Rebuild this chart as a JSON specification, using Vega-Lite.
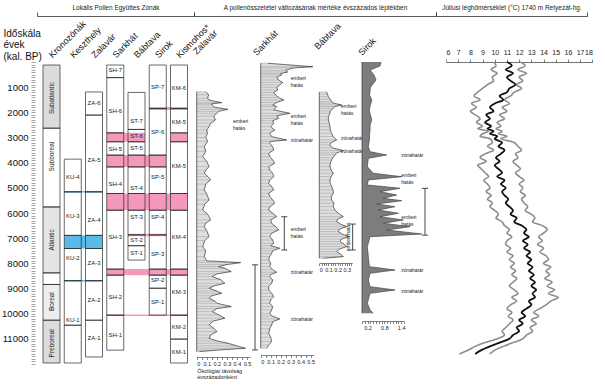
{
"$schema": "https://vega.github.io/schema/vega-lite/v6.json",
"width": 605, "height": 385, "autosize": {"type": "none"}, "padding": 0,
"background": "white",
"view": {"stroke": null},
"config": {"font": "Liberation Sans", "axis": {"labelFont": "Liberation Sans", "titleFont": "Liberation Sans", "grid": false}, "text": {"font": "Liberation Sans"}},
"datasets": {
"zones": [
{"col":"Kronozónák","from":120,"to":2630,"label":"Subatlantic","mid":1430},
{"col":"Kronozónák","from":2630,"to":5760,"label":"Subboreal","mid":3760},
{"col":"Kronozónák","from":5760,"to":8380,"label":"Atlantic","mid":7070},
{"col":"Kronozónák","from":8380,"to":8840,"label":"","mid":8600},
{"col":"Kronozónák","from":8840,"to":10260,"label":"Boreal","mid":9520},
{"col":"Kronozónák","from":10260,"to":11960,"label":"Preboreal","mid":11180},
{"col":"Keszthely","from":3860,"to":5160,"label":"KU-4","mid":4560},
{"col":"Keszthely","from":5160,"to":6890,"label":"KU-3","mid":6130},
{"col":"Keszthely","from":6890,"to":7410,"label":"","mid":7150},
{"col":"Keszthely","from":7410,"to":8690,"label":"KU-2","mid":7800},
{"col":"Keszthely","from":8690,"to":10460,"label":"KU-1","mid":10250},
{"col":"Keszthely","from":10460,"to":11960,"label":"","mid":11200},
{"col":"Zalavár","from":1190,"to":2110,"label":"ZA-6","mid":1640},
{"col":"Zalavár","from":2110,"to":5160,"label":"ZA-5","mid":3900},
{"col":"Zalavár","from":5160,"to":6890,"label":"ZA-4","mid":6280},
{"col":"Zalavár","from":6890,"to":7410,"label":"","mid":7150},
{"col":"Zalavár","from":7410,"to":8690,"label":"ZA-3","mid":8000},
{"col":"Zalavár","from":8690,"to":10260,"label":"ZA-2","mid":9460},
{"col":"Zalavár","from":10260,"to":11720,"label":"ZA-1","mid":10980},
{"col":"Sarkhát","from":120,"to":620,"label":"SH-7","mid":330},
{"col":"Sarkhát","from":620,"to":2815,"label":"SH-6","mid":1930},
{"col":"Sarkhát","from":2815,"to":3170,"label":"","mid":3000},
{"col":"Sarkhát","from":3170,"to":3700,"label":"SH-5","mid":3440},
{"col":"Sarkhát","from":3700,"to":4170,"label":"","mid":3900},
{"col":"Sarkhát","from":4170,"to":5225,"label":"SH-4","mid":4830},
{"col":"Sarkhát","from":5225,"to":5890,"label":"","mid":5500},
{"col":"Sarkhát","from":5890,"to":8230,"label":"SH-3","mid":6940},
{"col":"Sarkhát","from":8230,"to":8470,"label":"","mid":8350},
{"col":"Sarkhát","from":8470,"to":10060,"label":"SH-2","mid":9330},
{"col":"Sarkhát","from":10060,"to":11450,"label":"SH-1","mid":10850},
{"col":"Bábtava","from":1210,"to":2680,"label":"ST-7","mid":2330},
{"col":"Bábtava","from":2680,"to":3170,"label":"ST-6","mid":2950},
{"col":"Bábtava","from":3170,"to":3700,"label":"ST-5","mid":3410},
{"col":"Bábtava","from":3700,"to":4170,"label":"","mid":3900},
{"col":"Bábtava","from":4170,"to":5225,"label":"ST-4","mid":5020},
{"col":"Bábtava","from":5225,"to":5890,"label":"","mid":5500},
{"col":"Bábtava","from":5890,"to":6870,"label":"ST-3","mid":6150},
{"col":"Bábtava","from":6870,"to":7300,"label":"ST-2","mid":7080},
{"col":"Bábtava","from":7300,"to":7870,"label":"ST-1","mid":7600},
{"col":"Sirok","from":120,"to":1850,"label":"SP-7","mid":990},
{"col":"Sirok","from":1850,"to":3700,"label":"SP-6","mid":2780},
{"col":"Sirok","from":3700,"to":4170,"label":"","mid":3900},
{"col":"Sirok","from":4170,"to":5225,"label":"SP-5","mid":4560},
{"col":"Sirok","from":5225,"to":5890,"label":"","mid":5500},
{"col":"Sirok","from":5890,"to":6870,"label":"SP-4","mid":6150},
{"col":"Sirok","from":6870,"to":8230,"label":"SP-3","mid":7630},
{"col":"Sirok","from":8230,"to":8470,"label":"","mid":8350},
{"col":"Sirok","from":8470,"to":8990,"label":"SP-2","mid":8680},
{"col":"Sirok","from":8990,"to":10060,"label":"SP-1","mid":9520},
{"col":"Kismohos*","from":120,"to":1850,"label":"KM-6","mid":1050},
{"col":"Kismohos*","from":1850,"to":2815,"label":"KM-5","mid":2380},
{"col":"Kismohos*","from":2815,"to":3170,"label":"","mid":3000},
{"col":"Kismohos*","from":3170,"to":5225,"label":"KM-5","mid":4130},
{"col":"Kismohos*","from":5225,"to":5890,"label":"","mid":5500},
{"col":"Kismohos*","from":5890,"to":8230,"label":"KM-4","mid":6940},
{"col":"Kismohos*","from":8230,"to":8470,"label":"","mid":8350},
{"col":"Kismohos*","from":8470,"to":10060,"label":"KM-3","mid":9120},
{"col":"Kismohos*","from":10060,"to":11010,"label":"KM-2","mid":10510},
{"col":"Kismohos*","from":11010,"to":11960,"label":"KM-1","mid":11510}
],
"bands": [
{"from_col":"Sirok","to_col":"Kismohos*","from":1790,"to":1910,"csoport":"észak-magyarországi"},
{"from_col":"Sarkhát","to_col":"Bábtava","from":2815,"to":3170,"csoport":"észak-magyarországi"},
{"from_col":"Kismohos*","to_col":"Kismohos*","from":2815,"to":3170,"csoport":"észak-magyarországi"},
{"from_col":"Sarkhát","to_col":"Sirok","from":3700,"to":4170,"csoport":"észak-magyarországi"},
{"from_col":"Sarkhát","to_col":"Kismohos*","from":5225,"to":5890,"csoport":"észak-magyarországi"},
{"from_col":"Bábtava","to_col":"Sirok","from":6820,"to":6920,"csoport":"észak-magyarországi"},
{"from_col":"Sarkhát","to_col":"Kismohos*","from":8230,"to":8470,"csoport":"észak-magyarországi"},
{"from_col":"Sarkhát","to_col":"Kismohos*","from":10030,"to":10090,"csoport":"észak-magyarországi"},
{"from_col":"Keszthely","to_col":"Zalavár","from":5130,"to":5190,"csoport":"dunántúli"},
{"from_col":"Keszthely","to_col":"Zalavár","from":6890,"to":7410,"csoport":"dunántúli"},
{"from_col":"Keszthely","to_col":"Zalavár","from":8660,"to":8720,"csoport":"dunántúli"}
],
"roc": [
{"site":"Zalavár","age":1178,"val":0.09},{"site":"Zalavár","age":1300,"val":0.12},{"site":"Zalavár","age":1443,"val":0.107},{"site":"Zalavár","age":1530,"val":0.14},{"site":"Zalavár","age":1615,"val":0.25},{"site":"Zalavár","age":1660,"val":0.15},{"site":"Zalavár","age":1708,"val":0.154},{"site":"Zalavár","age":1800,"val":0.18},{"site":"Zalavár","age":1880,"val":0.31},{"site":"Zalavár","age":1960,"val":0.22},{"site":"Zalavár","age":2039,"val":0.2},{"site":"Zalavár","age":2150,"val":0.17},{"site":"Zalavár","age":2304,"val":0.186},{"site":"Zalavár","age":2430,"val":0.14},{"site":"Zalavár","age":2569,"val":0.123},{"site":"Zalavár","age":2700,"val":0.1},{"site":"Zalavár","age":2833,"val":0.107},{"site":"Zalavár","age":3000,"val":0.09},{"site":"Zalavár","age":3150,"val":0.11},{"site":"Zalavár","age":3363,"val":0.075},{"site":"Zalavár","age":3550,"val":0.09},{"site":"Zalavár","age":3760,"val":0.06},{"site":"Zalavár","age":3950,"val":0.1},{"site":"Zalavár","age":4157,"val":0.123},{"site":"Zalavár","age":4300,"val":0.09},{"site":"Zalavár","age":4422,"val":0.075},{"site":"Zalavár","age":4550,"val":0.11},{"site":"Zalavár","age":4687,"val":0.138},{"site":"Zalavár","age":4850,"val":0.09},{"site":"Zalavár","age":5084,"val":0.075},{"site":"Zalavár","age":5250,"val":0.1},{"site":"Zalavár","age":5481,"val":0.123},{"site":"Zalavár","age":5650,"val":0.08},{"site":"Zalavár","age":5879,"val":0.06},{"site":"Zalavár","age":6050,"val":0.11},{"site":"Zalavár","age":6276,"val":0.138},{"site":"Zalavár","age":6400,"val":0.09},{"site":"Zalavár","age":6541,"val":0.075},{"site":"Zalavár","age":6700,"val":0.1},{"site":"Zalavár","age":6938,"val":0.123},{"site":"Zalavár","age":7100,"val":0.08},{"site":"Zalavár","age":7335,"val":0.06},{"site":"Zalavár","age":7500,"val":0.09},{"site":"Zalavár","age":7732,"val":0.075},{"site":"Zalavár","age":7900,"val":0.1},{"site":"Zalavár","age":7971,"val":0.437},{"site":"Zalavár","age":8050,"val":0.3},{"site":"Zalavár","age":8129,"val":0.217},{"site":"Zalavár","age":8200,"val":0.28},{"site":"Zalavár","age":8328,"val":0.343},{"site":"Zalavár","age":8420,"val":0.2},{"site":"Zalavár","age":8527,"val":0.154},{"site":"Zalavár","age":8650,"val":0.24},{"site":"Zalavár","age":8791,"val":0.28},{"site":"Zalavár","age":8900,"val":0.17},{"site":"Zalavár","age":8990,"val":0.123},{"site":"Zalavár","age":9100,"val":0.2},{"site":"Zalavár","age":9189,"val":0.248},{"site":"Zalavár","age":9290,"val":0.15},{"site":"Zalavár","age":9387,"val":0.123},{"site":"Zalavár","age":9500,"val":0.18},{"site":"Zalavár","age":9586,"val":0.201},{"site":"Zalavár","age":9718,"val":0.343},{"site":"Zalavár","age":9800,"val":0.2},{"site":"Zalavár","age":9917,"val":0.154},{"site":"Zalavár","age":10050,"val":0.22},{"site":"Zalavár","age":10182,"val":0.28},{"site":"Zalavár","age":10300,"val":0.16},{"site":"Zalavár","age":10446,"val":0.123},{"site":"Zalavár","age":10580,"val":0.17},{"site":"Zalavár","age":10711,"val":0.201},{"site":"Zalavár","age":10850,"val":0.14},{"site":"Zalavár","age":10976,"val":0.123},{"site":"Zalavár","age":11080,"val":0.2},{"site":"Zalavár","age":11175,"val":0.311},{"site":"Zalavár","age":11280,"val":0.4},{"site":"Zalavár","age":11373,"val":0.484},{"site":"Zalavár","age":11450,"val":0.2},{"site":"Zalavár","age":11506,"val":0.028},
{"site":"Sarkhát","age":50,"val":0.07},{"site":"Sarkhát","age":187,"val":0.52},{"site":"Sarkhát","age":238,"val":0.32},{"site":"Sarkhát","age":330,"val":0.25},{"site":"Sarkhát","age":397,"val":0.27},{"site":"Sarkhát","age":460,"val":0.2},{"site":"Sarkhát","age":516,"val":0.21},{"site":"Sarkhát","age":600,"val":0.16},{"site":"Sarkhát","age":715,"val":0.177},{"site":"Sarkhát","age":814,"val":0.22},{"site":"Sarkhát","age":914,"val":0.19},{"site":"Sarkhát","age":1010,"val":0.16},{"site":"Sarkhát","age":1112,"val":0.17},{"site":"Sarkhát","age":1210,"val":0.13},{"site":"Sarkhát","age":1311,"val":0.15},{"site":"Sarkhát","age":1410,"val":0.18},{"site":"Sarkhát","age":1510,"val":0.23},{"site":"Sarkhát","age":1610,"val":0.16},{"site":"Sarkhát","age":1708,"val":0.12},{"site":"Sarkhát","age":1774,"val":0.16},{"site":"Sarkhát","age":1900,"val":0.13},{"site":"Sarkhát","age":2039,"val":0.29},{"site":"Sarkhát","age":2140,"val":0.16},{"site":"Sarkhát","age":2238,"val":0.18},{"site":"Sarkhát","age":2336,"val":0.12},{"site":"Sarkhát","age":2436,"val":0.13},{"site":"Sarkhát","age":2570,"val":0.1},{"site":"Sarkhát","age":2701,"val":0.14},{"site":"Sarkhát","age":2830,"val":0.09},{"site":"Sarkhát","age":2966,"val":0.11},{"site":"Sarkhát","age":3098,"val":0.26},{"site":"Sarkhát","age":3160,"val":0.1},{"site":"Sarkhát","age":3231,"val":0.09},{"site":"Sarkhát","age":3360,"val":0.12},{"site":"Sarkhát","age":3495,"val":0.13},{"site":"Sarkhát","age":3630,"val":0.08},{"site":"Sarkhát","age":3760,"val":0.09},{"site":"Sarkhát","age":3890,"val":0.12},{"site":"Sarkhát","age":4025,"val":0.14},{"site":"Sarkhát","age":4160,"val":0.08},{"site":"Sarkhát","age":4290,"val":0.09},{"site":"Sarkhát","age":4420,"val":0.12},{"site":"Sarkhát","age":4555,"val":0.13},{"site":"Sarkhát","age":4690,"val":0.09},{"site":"Sarkhát","age":4819,"val":0.08},{"site":"Sarkhát","age":4950,"val":0.11},{"site":"Sarkhát","age":5084,"val":0.13},{"site":"Sarkhát","age":5215,"val":0.08},{"site":"Sarkhát","age":5349,"val":0.09},{"site":"Sarkhát","age":5480,"val":0.12},{"site":"Sarkhát","age":5614,"val":0.14},{"site":"Sarkhát","age":5750,"val":0.09},{"site":"Sarkhát","age":5879,"val":0.08},{"site":"Sarkhát","age":6010,"val":0.12},{"site":"Sarkhát","age":6143,"val":0.16},{"site":"Sarkhát","age":6275,"val":0.1},{"site":"Sarkhát","age":6408,"val":0.11},{"site":"Sarkhát","age":6540,"val":0.15},{"site":"Sarkhát","age":6673,"val":0.18},{"site":"Sarkhát","age":6800,"val":0.11},{"site":"Sarkhát","age":6938,"val":0.09},{"site":"Sarkhát","age":7070,"val":0.12},{"site":"Sarkhát","age":7203,"val":0.13},{"site":"Sarkhát","age":7300,"val":0.1},{"site":"Sarkhát","age":7401,"val":0.19},{"site":"Sarkhát","age":7500,"val":0.12},{"site":"Sarkhát","age":7600,"val":0.11},{"site":"Sarkhát","age":7730,"val":0.09},{"site":"Sarkhát","age":7865,"val":0.08},{"site":"Sarkhát","age":8000,"val":0.1},{"site":"Sarkhát","age":8129,"val":0.09},{"site":"Sarkhát","age":8250,"val":0.12},{"site":"Sarkhát","age":8354,"val":0.16},{"site":"Sarkhát","age":8440,"val":0.1},{"site":"Sarkhát","age":8527,"val":0.09},{"site":"Sarkhát","age":8660,"val":0.12},{"site":"Sarkhát","age":8791,"val":0.11},{"site":"Sarkhát","age":8920,"val":0.08},{"site":"Sarkhát","age":9056,"val":0.08},{"site":"Sarkhát","age":9190,"val":0.11},{"site":"Sarkhát","age":9321,"val":0.13},{"site":"Sarkhát","age":9450,"val":0.1},{"site":"Sarkhát","age":9586,"val":0.09},{"site":"Sarkhát","age":9720,"val":0.12},{"site":"Sarkhát","age":9850,"val":0.11},{"site":"Sarkhát","age":10000,"val":0.09},{"site":"Sarkhát","age":10100,"val":0.12},{"site":"Sarkhát","age":10208,"val":0.19},{"site":"Sarkhát","age":10320,"val":0.12},{"site":"Sarkhát","age":10446,"val":0.11},{"site":"Sarkhát","age":10600,"val":0.09},{"site":"Sarkhát","age":10777,"val":0.08},{"site":"Sarkhát","age":10940,"val":0.1},{"site":"Sarkhát","age":11108,"val":0.11},{"site":"Sarkhát","age":11250,"val":0.08},{"site":"Sarkhát","age":11373,"val":0.06},
{"site":"Bábtava","age":1190,"val":0.08},{"site":"Bábtava","age":1280,"val":0.09},{"site":"Bábtava","age":1377,"val":0.098},{"site":"Bábtava","age":1480,"val":0.12},{"site":"Bábtava","age":1576,"val":0.134},{"site":"Bábtava","age":1640,"val":0.16},{"site":"Bábtava","age":1708,"val":0.244},{"site":"Bábtava","age":1770,"val":0.17},{"site":"Bábtava","age":1840,"val":0.153},{"site":"Bábtava","age":1940,"val":0.12},{"site":"Bábtava","age":2039,"val":0.116},{"site":"Bábtava","age":2170,"val":0.1},{"site":"Bábtava","age":2304,"val":0.098},{"site":"Bábtava","age":2440,"val":0.11},{"site":"Bábtava","age":2569,"val":0.116},{"site":"Bábtava","age":2700,"val":0.12},{"site":"Bábtava","age":2833,"val":0.134},{"site":"Bábtava","age":2960,"val":0.15},{"site":"Bábtava","age":3098,"val":0.189},{"site":"Bábtava","age":3200,"val":0.13},{"site":"Bábtava","age":3297,"val":0.116},{"site":"Bábtava","age":3410,"val":0.14},{"site":"Bábtava","age":3522,"val":0.262},{"site":"Bábtava","age":3610,"val":0.19},{"site":"Bábtava","age":3694,"val":0.171},{"site":"Bábtava","age":3800,"val":0.15},{"site":"Bábtava","age":3893,"val":0.134},{"site":"Bábtava","age":4020,"val":0.12},{"site":"Bábtava","age":4157,"val":0.116},{"site":"Bábtava","age":4290,"val":0.13},{"site":"Bábtava","age":4422,"val":0.153},{"site":"Bábtava","age":4550,"val":0.13},{"site":"Bábtava","age":4687,"val":0.116},{"site":"Bábtava","age":4820,"val":0.12},{"site":"Bábtava","age":4951,"val":0.134},{"site":"Bábtava","age":5080,"val":0.15},{"site":"Bábtava","age":5216,"val":0.153},{"site":"Bábtava","age":5350,"val":0.13},{"site":"Bábtava","age":5481,"val":0.134},{"site":"Bábtava","age":5610,"val":0.16},{"site":"Bábtava","age":5746,"val":0.153},{"site":"Bábtava","age":5880,"val":0.17},{"site":"Bábtava","age":6011,"val":0.207},{"site":"Bábtava","age":6144,"val":0.262},{"site":"Bábtava","age":6242,"val":0.2},{"site":"Bábtava","age":6342,"val":0.189},{"site":"Bábtava","age":6440,"val":0.23},{"site":"Bábtava","age":6541,"val":0.298},{"site":"Bábtava","age":6640,"val":0.22},{"site":"Bábtava","age":6739,"val":0.207},{"site":"Bábtava","age":6840,"val":0.25},{"site":"Bábtava","age":6938,"val":0.335},{"site":"Bábtava","age":7036,"val":0.24},{"site":"Bábtava","age":7136,"val":0.226},{"site":"Bábtava","age":7235,"val":0.27},{"site":"Bábtava","age":7335,"val":0.298},{"site":"Bábtava","age":7434,"val":0.22},{"site":"Bábtava","age":7534,"val":0.189},{"site":"Bábtava","age":7630,"val":0.23},{"site":"Bábtava","age":7732,"val":0.262},{"site":"Bábtava","age":7798,"val":0.044},
{"site":"Sirok","age":0,"val":0.68},{"site":"Sirok","age":80,"val":0.66},{"site":"Sirok","age":160,"val":0.64},{"site":"Sirok","age":318,"val":0.29},{"site":"Sirok","age":420,"val":0.36},{"site":"Sirok","age":516,"val":0.43},{"site":"Sirok","age":715,"val":0.5},{"site":"Sirok","age":914,"val":0.36},{"site":"Sirok","age":1033,"val":0.29},{"site":"Sirok","age":1112,"val":0.29},{"site":"Sirok","age":1311,"val":0.27},{"site":"Sirok","age":1510,"val":0.35},{"site":"Sirok","age":1700,"val":0.3},{"site":"Sirok","age":1907,"val":0.26},{"site":"Sirok","age":2100,"val":0.3},{"site":"Sirok","age":2304,"val":0.345},{"site":"Sirok","age":2500,"val":0.29},{"site":"Sirok","age":2702,"val":0.286},{"site":"Sirok","age":2900,"val":0.27},{"site":"Sirok","age":3099,"val":0.262},{"site":"Sirok","age":3365,"val":0.226},{"site":"Sirok","age":3564,"val":0.286},{"site":"Sirok","age":3695,"val":0.881},{"site":"Sirok","age":3826,"val":0.226},{"site":"Sirok","age":4160,"val":0.19},{"site":"Sirok","age":4422,"val":0.405},{"site":"Sirok","age":4557,"val":1.417},{"site":"Sirok","age":4688,"val":0.226},{"site":"Sirok","age":4887,"val":0.19},{"site":"Sirok","age":5018,"val":1.357},{"site":"Sirok","age":5153,"val":0.643},{"site":"Sirok","age":5284,"val":1.238},{"site":"Sirok","age":5415,"val":0.762},{"site":"Sirok","age":5511,"val":1.417},{"site":"Sirok","age":5642,"val":0.524},{"site":"Sirok","age":5749,"val":1.18},{"site":"Sirok","age":5880,"val":0.583},{"site":"Sirok","age":6011,"val":1.298},{"site":"Sirok","age":6146,"val":0.643},{"site":"Sirok","age":6277,"val":1.476},{"site":"Sirok","age":6408,"val":0.762},{"site":"Sirok","age":6543,"val":1.714},{"site":"Sirok","age":6675,"val":0.881},{"site":"Sirok","age":6834,"val":2.131},{"site":"Sirok","age":6941,"val":0.286},{"site":"Sirok","age":7338,"val":0.19},{"site":"Sirok","age":7735,"val":0.226},{"site":"Sirok","age":8133,"val":0.262},{"site":"Sirok","age":8264,"val":1.18},{"site":"Sirok","age":8395,"val":0.286},{"site":"Sirok","age":8661,"val":0.226},{"site":"Sirok","age":8927,"val":0.286},{"site":"Sirok","age":9059,"val":1.18},{"site":"Sirok","age":9190,"val":0.286},{"site":"Sirok","age":9587,"val":0.19},{"site":"Sirok","age":9853,"val":0.286},{"site":"Sirok","age":9984,"val":0.405}
],
"notes": [
{"site":"Zalavár","age":2340,"text":"emberi\nhatás"},
{"site":"Sarkhát","age":620,"text":"emberi\nhatás"},
{"site":"Sarkhát","age":2150,"text":"emberi\nhatás"},
{"site":"Sarkhát","age":3100,"text":"zónahatár"},
{"site":"Sarkhát","age":6650,"text":"emberi\nhatás"},
{"site":"Sarkhát","age":8350,"text":"zónahatár"},
{"site":"Sarkhát","age":10200,"text":"zónahatár"},
{"site":"Bábtava","age":1750,"text":"emberi\nhatás"},
{"site":"Bábtava","age":3000,"text":"zónahatár"},
{"site":"Bábtava","age":3530,"text":"zónahatár"},
{"site":"Sirok","age":3700,"text":"zónahatár"},
{"site":"Sirok","age":4500,"text":"emberi\nhatás"},
{"site":"Sirok","age":6150,"text":"emberi\nhatás"},
{"site":"Sirok","age":8270,"text":"zónahatár"},
{"site":"Sirok","age":9080,"text":"zónahatár"}
],
"brackets": [
{"site":"Zalavár","from":8060,"to":11440},
{"site":"Sarkhát","from":6150,"to":7470},
{"site":"Bábtava","from":6440,"to":7470},
{"site":"Sirok","from":5020,"to":6880}
],
"sites": [{"site":"Zalavár"},{"site":"Sarkhát"},{"site":"Bábtava"},{"site":"Sirok"}],
"temp": [
{"age":0,"mean":11.0,"lo":9.9,"hi":12.1},{"age":150,"mean":11.4,"lo":10.1,"hi":12.5},{"age":300,"mean":10.9,"lo":9.7,"hi":11.9},{"age":450,"mean":11.5,"lo":10.2,"hi":12.6},{"age":600,"mean":11.0,"lo":9.8,"hi":12.0},{"age":750,"mean":11.3,"lo":9.9,"hi":12.3},{"age":900,"mean":11.7,"lo":9.4,"hi":11.8},{"age":1050,"mean":11.2,"lo":9.0,"hi":12.2},{"age":1200,"mean":11.0,"lo":8.6,"hi":11.6},{"age":1350,"mean":10.4,"lo":8.3,"hi":11.3},{"age":1500,"mean":10.7,"lo":8.8,"hi":10.8},{"age":1650,"mean":10.0,"lo":8.1,"hi":11.2},{"age":1800,"mean":9.6,"lo":8.5,"hi":10.6},{"age":1950,"mean":9.9,"lo":8.0,"hi":11.0},{"age":2100,"mean":9.3,"lo":8.4,"hi":10.4},{"age":2250,"mean":9.6,"lo":8.8,"hi":10.8},{"age":2400,"mean":9.2,"lo":8.5,"hi":10.2},{"age":2550,"mean":9.7,"lo":9.0,"hi":10.5},{"age":2650,"mean":9.4,"lo":8.6,"hi":10.1},{"age":2750,"mean":9.9,"lo":9.5,"hi":10.6},{"age":2850,"mean":9.6,"lo":9.0,"hi":10.3},{"age":2950,"mean":10.2,"lo":8.8,"hi":11.0},{"age":3050,"mean":10.0,"lo":9.6,"hi":10.5},{"age":3200,"mean":10.6,"lo":9.8,"hi":11.6},{"age":3350,"mean":10.3,"lo":9.4,"hi":11.9},{"age":3500,"mean":10.8,"lo":9.9,"hi":12.2},{"age":3650,"mean":10.5,"lo":9.2,"hi":11.7},{"age":3800,"mean":10.1,"lo":8.8,"hi":11.9},{"age":3950,"mean":10.4,"lo":9.3,"hi":11.5},{"age":4100,"mean":10.0,"lo":8.6,"hi":11.8},{"age":4250,"mean":10.3,"lo":8.9,"hi":12.1},{"age":4400,"mean":10.6,"lo":9.2,"hi":11.7},{"age":4550,"mean":10.2,"lo":9.5,"hi":12.0},{"age":4700,"mean":10.8,"lo":9.1,"hi":12.4},{"age":4850,"mean":10.5,"lo":9.4,"hi":12.0},{"age":5000,"mean":10.9,"lo":9.6,"hi":12.3},{"age":5150,"mean":10.6,"lo":9.3,"hi":12.1},{"age":5300,"mean":10.8,"lo":9.7,"hi":12.5},{"age":5450,"mean":11.1,"lo":9.4,"hi":12.2},{"age":5600,"mean":10.9,"lo":9.8,"hi":12.4},{"age":5750,"mean":11.2,"lo":9.6,"hi":12.7},{"age":5900,"mean":11.5,"lo":10.0,"hi":12.5},{"age":6050,"mean":11.3,"lo":10.3,"hi":13.0},{"age":6200,"mean":11.8,"lo":10.1,"hi":13.3},{"age":6350,"mean":11.6,"lo":10.6,"hi":13.1},{"age":6500,"mean":12.2,"lo":10.8,"hi":13.9},{"age":6650,"mean":12.6,"lo":11.2,"hi":14.3},{"age":6800,"mean":12.4,"lo":11.0,"hi":14.0},{"age":6950,"mean":12.8,"lo":11.4,"hi":13.6},{"age":7100,"mean":12.3,"lo":11.0,"hi":13.9},{"age":7250,"mean":12.7,"lo":10.9,"hi":13.5},{"age":7400,"mean":12.4,"lo":11.3,"hi":14.0},{"age":7550,"mean":12.9,"lo":11.0,"hi":13.7},{"age":7700,"mean":12.6,"lo":11.5,"hi":14.2},{"age":7850,"mean":13.0,"lo":11.2,"hi":14.4},{"age":8000,"mean":12.7,"lo":11.6,"hi":14.0},{"age":8150,"mean":13.1,"lo":11.3,"hi":14.6},{"age":8300,"mean":12.8,"lo":11.7,"hi":14.2},{"age":8450,"mean":13.2,"lo":11.4,"hi":14.5},{"age":8600,"mean":12.9,"lo":11.8,"hi":14.1},{"age":8750,"mean":13.3,"lo":11.5,"hi":14.7},{"age":8900,"mean":13.0,"lo":11.2,"hi":14.3},{"age":9050,"mean":13.4,"lo":11.6,"hi":14.9},{"age":9200,"mean":13.1,"lo":11.9,"hi":14.4},{"age":9350,"mean":13.3,"lo":11.4,"hi":15.2},{"age":9500,"mean":12.8,"lo":11.8,"hi":14.6},{"age":9650,"mean":13.0,"lo":11.3,"hi":14.2},{"age":9800,"mean":12.6,"lo":11.0,"hi":13.7},{"age":9950,"mean":12.2,"lo":11.4,"hi":13.2},{"age":10100,"mean":12.5,"lo":11.1,"hi":13.6},{"age":10250,"mean":12.0,"lo":11.5,"hi":13.0},{"age":10400,"mean":12.3,"lo":11.2,"hi":13.4},{"age":10550,"mean":11.8,"lo":10.9,"hi":12.9},{"age":10700,"mean":12.0,"lo":10.6,"hi":13.1},{"age":10850,"mean":11.5,"lo":10.8,"hi":12.6},{"age":11000,"mean":11.2,"lo":10.2,"hi":12.3},{"age":11150,"mean":10.4,"lo":9.2,"hi":11.5},{"age":11300,"mean":9.6,"lo":8.4,"hi":10.7},{"age":11450,"mean":8.9,"lo":7.8,"hi":10.0},{"age":11600,"mean":8.4,"lo":7.1,"hi":9.6}
]
},
"layer": [
{
"data": {"values": [{"section": "Lokális Pollen Együttes Zónák"}]},
"mark": {"type": "text", "text": " ", "opacity": 0},
"encoding": {"x": {"field": "section", "type": "nominal", "scale": {"type": "band", "range": [37, 194], "paddingInner": 0, "paddingOuter": 0},
"axis": {"orient": "top", "offset": -16, "domain": true, "domainColor": "#333", "domainWidth": 0.8, "ticks": true, "tickBand": "extent", "tickSize": 4, "tickColor": "#333", "tickWidth": 0.8, "labelAngle": 0, "labelPadding": 2, "labelFontSize": 6.5, "labelLimit": 400, "labelColor": "#222", "title": null}}}
},
{
"data": {"values": [{"section": "A pollenösszetétel változásának mértéke évszázados léptékben"}]},
"mark": {"type": "text", "text": " ", "opacity": 0},
"encoding": {"x": {"field": "section", "type": "nominal", "scale": {"type": "band", "range": [194, 436], "paddingInner": 0, "paddingOuter": 0},
"axis": {"orient": "top", "offset": -16, "domain": true, "domainColor": "#333", "domainWidth": 0.8, "ticks": true, "tickBand": "extent", "tickSize": 4, "tickColor": "#333", "tickWidth": 0.8, "labelAngle": 0, "labelPadding": 2, "labelFontSize": 6.5, "labelLimit": 400, "labelColor": "#222", "title": null}}}
},
{
"data": {"values": [{"section": "Júliusi léghőmérséklet (°C) 1740 m Retyezát-hg."}]},
"mark": {"type": "text", "text": " ", "opacity": 0},
"encoding": {"x": {"field": "section", "type": "nominal", "scale": {"type": "band", "range": [436, 587], "paddingInner": 0, "paddingOuter": 0},
"axis": {"orient": "top", "offset": -16, "domain": true, "domainColor": "#333", "domainWidth": 0.8, "ticks": true, "tickBand": "extent", "tickSize": 4, "tickColor": "#333", "tickWidth": 0.8, "labelAngle": 0, "labelPadding": 2, "labelFontSize": 6.5, "labelLimit": 400, "labelColor": "#222", "title": null}}}
},
{
"resolve": {"scale": {"color": "independent"}},
"encoding": {
"y": {"field": "from", "type": "quantitative", "scale": {"domain": [0, 12000], "range": [62, 364], "nice": false, "zero": false},
"axis": {"orient": "left", "offset": -35, "values": [0,100,200,300,400,500,600,700,800,900,1000,1100,1200,1300,1400,1500,1600,1700,1800,1900,2000,2100,2200,2300,2400,2500,2600,2700,2800,2900,3000,3100,3200,3300,3400,3500,3600,3700,3800,3900,4000,4100,4200,4300,4400,4500,4600,4700,4800,4900,5000,5100,5200,5300,5400,5500,5600,5700,5800,5900,6000,6100,6200,6300,6400,6500,6600,6700,6800,6900,7000,7100,7200,7300,7400,7500,7600,7700,7800,7900,8000,8100,8200,8300,8400,8500,8600,8700,8800,8900,9000,9100,9200,9300,9400,9500,9600,9700,9800,9900,10000,10100,10200,10300,10400,10500,10600,10700,10800,10900,11000,11100,11200,11300,11400,11500,11600,11700,11800,11900,12000],
"format": "d", "labelExpr": "datum.value % 1000 === 0 && datum.value > 0 && datum.value < 12000 ? datum.label : ''", "labelOverlap": false, "domain": false, "tickSize": 4, "tickColor": "#666", "tickWidth": 0.6, "labelFontSize": 9.5, "labelPadding": 3, "labelColor": "#111",
"title": ["Időskála", "évek", "(kal. BP)"], "titleAngle": 0, "titleAlign": "left", "titleBaseline": "top", "titleX": -32, "titleY": 28, "titleFontSize": 10, "titleFontWeight": "normal", "titleLineHeight": 11.5, "titleColor": "#111"}},
"y2": {"field": "to"}
},
"layer": [
{
"data": {"name": "zones"},
"mark": {"type": "rect", "fill": "white"},
"encoding": {
"x": {"field": "col", "type": "nominal", "scale": {"type": "band", "domain": ["Kronozónák","Keszthely","Zalavár","Sarkhát","Bábtava","Sirok","Kismohos*"], "range": [43, 187.5], "paddingInner": 0.2, "paddingOuter": 0},
"axis": {"orient": "top", "offset": -62, "domain": false, "ticks": false, "tickSize": 0, "labelAngle": -45, "labelAlign": "left", "labelBaseline": "alphabetic", "labelPadding": 4, "labelOffset": 1, "labelFontSize": 9, "labelColor": "#111", "labelBound": false, "title": null}}
}
},
{
"data": {"name": "zones"},
"transform": [{"filter": "datum.col === 'Kronozónák' && datum.label !== ''"}],
"mark": {"type": "rect"},
"encoding": {
"x": {"field": "col", "type": "nominal"},
"color": {"field": "label", "type": "nominal", "scale": {"domain": ["Subatlantic","Subboreal","Atlantic","Boreal","Preboreal"], "range": ["#dcdcdc","#ffffff","#e4e4e4","#eeeeee","#dcdcdc"]}, "legend": null}
}
},
{
"data": {"name": "bands"},
"mark": {"type": "rect", "opacity": 0.88},
"encoding": {
"x": {"field": "from_col", "type": "nominal", "bandPosition": 0},
"x2": {"field": "to_col", "bandPosition": 1},
"fill": {"field": "csoport", "type": "nominal", "scale": {"domain": ["észak-magyarországi", "dunántúli"], "range": ["#f28ab3", "#45b2e3"]}, "legend": null}
}
},
{
"data": {"name": "zones"},
"mark": {"type": "rect", "fill": "transparent", "stroke": "#2a2a2a", "strokeWidth": 0.7},
"encoding": {
"x": {"field": "col", "type": "nominal"}
}
},
{
"data": {"name": "zones"},
"transform": [{"filter": "datum.col !== 'Kronozónák' && datum.label !== ''"}],
"mark": {"type": "text", "fontSize": 6, "color": "#222"},
"encoding": {
"x": {"field": "col", "type": "nominal"},
"y": {"field": "mid", "type": "quantitative", "scale": {"domain": [0, 12000], "range": [62, 364], "nice": false, "zero": false},
"axis": {"orient": "left", "offset": -35, "values": [0,100,200,300,400,500,600,700,800,900,1000,1100,1200,1300,1400,1500,1600,1700,1800,1900,2000,2100,2200,2300,2400,2500,2600,2700,2800,2900,3000,3100,3200,3300,3400,3500,3600,3700,3800,3900,4000,4100,4200,4300,4400,4500,4600,4700,4800,4900,5000,5100,5200,5300,5400,5500,5600,5700,5800,5900,6000,6100,6200,6300,6400,6500,6600,6700,6800,6900,7000,7100,7200,7300,7400,7500,7600,7700,7800,7900,8000,8100,8200,8300,8400,8500,8600,8700,8800,8900,9000,9100,9200,9300,9400,9500,9600,9700,9800,9900,10000,10100,10200,10300,10400,10500,10600,10700,10800,10900,11000,11100,11200,11300,11400,11500,11600,11700,11800,11900,12000],
"format": "d", "labelExpr": "datum.value % 1000 === 0 && datum.value > 0 && datum.value < 12000 ? datum.label : ''", "labelOverlap": false, "domain": false, "tickSize": 4, "tickColor": "#666", "tickWidth": 0.6, "labelFontSize": 9.5, "labelPadding": 3, "labelColor": "#111",
"title": ["Időskála", "évek", "(kal. BP)"], "titleAngle": 0, "titleAlign": "left", "titleBaseline": "top", "titleX": -32, "titleY": 28, "titleFontSize": 10, "titleFontWeight": "normal", "titleLineHeight": 11.5, "titleColor": "#111"}},
"y2": null,
"text": {"field": "label"}
}
},
{
"data": {"name": "zones"},
"transform": [{"filter": "datum.col === 'Kronozónák' && datum.label !== ''"}],
"mark": {"type": "text", "fontSize": 6.5, "angle": 270, "color": "#222"},
"encoding": {
"x": {"field": "col", "type": "nominal"},
"y": {"field": "mid", "type": "quantitative", "scale": {"domain": [0, 12000], "range": [62, 364], "nice": false, "zero": false},
"axis": {"orient": "left", "offset": -35, "values": [0,100,200,300,400,500,600,700,800,900,1000,1100,1200,1300,1400,1500,1600,1700,1800,1900,2000,2100,2200,2300,2400,2500,2600,2700,2800,2900,3000,3100,3200,3300,3400,3500,3600,3700,3800,3900,4000,4100,4200,4300,4400,4500,4600,4700,4800,4900,5000,5100,5200,5300,5400,5500,5600,5700,5800,5900,6000,6100,6200,6300,6400,6500,6600,6700,6800,6900,7000,7100,7200,7300,7400,7500,7600,7700,7800,7900,8000,8100,8200,8300,8400,8500,8600,8700,8800,8900,9000,9100,9200,9300,9400,9500,9600,9700,9800,9900,10000,10100,10200,10300,10400,10500,10600,10700,10800,10900,11000,11100,11200,11300,11400,11500,11600,11700,11800,11900,12000],
"format": "d", "labelExpr": "datum.value % 1000 === 0 && datum.value > 0 && datum.value < 12000 ? datum.label : ''", "labelOverlap": false, "domain": false, "tickSize": 4, "tickColor": "#666", "tickWidth": 0.6, "labelFontSize": 9.5, "labelPadding": 3, "labelColor": "#111",
"title": ["Időskála", "évek", "(kal. BP)"], "titleAngle": 0, "titleAlign": "left", "titleBaseline": "top", "titleX": -32, "titleY": 28, "titleFontSize": 10, "titleFontWeight": "normal", "titleLineHeight": 11.5, "titleColor": "#111"}},
"y2": null,
"text": {"field": "label"}
}
}
]
},
{
"layer": [
{
"data": {"name": "roc"}, "transform": [{"filter": "datum.site === 'Zalavár'"}],
"mark": {"type": "area", "orient": "horizontal", "color": "#dedede"},
"encoding": {
"x": {"field": "val", "type": "quantitative", "stack": null, "scale": {"domain": [0, 0.53], "range": [196.7, 250], "nice": false, "zero": false},
"axis": {"orient": "bottom", "offset": -28, "values": [0,0.05,0.1,0.15,0.2,0.25,0.3,0.35,0.4,0.45,0.5], "format": ".1~f", "labelExpr": "round(datum.value*100) % 10 === 0 ? datum.label : ''", "labelOverlap": false, "labelFontSize": 5.5, "labelPadding": 2, "tickSize": 2.5, "tickWidth": 0.6, "domainWidth": 0.6, "domainColor": "#333", "tickColor": "#333", "labelColor": "#222",
"title": ["Ökológiai távolság", "évszázadonként"], "titleFontSize": 5.5, "titleFontWeight": "normal", "titleAnchor": "start", "titleAlign": "left", "titlePadding": 1, "titleColor": "#222", "titleLineHeight": 6}},
"y": {"field": "age", "type": "quantitative", "scale": {"domain": [0, 12000], "range": [62, 364], "nice": false, "zero": false}, "axis": null}
}
},
{
"data": {"name": "roc"}, "transform": [{"filter": "datum.site === 'Zalavár'"}],
"mark": {"type": "rule", "color": "#8a8a8a", "strokeWidth": 0.4},
"encoding": {"x": {"field": "val", "type": "quantitative"}, "x2": {"datum": 0}, "y": {"field": "age", "type": "quantitative", "axis": null}}
},
{
"data": {"name": "roc"}, "transform": [{"filter": "datum.site === 'Zalavár'"}],
"mark": {"type": "line", "color": "#333", "strokeWidth": 0.7},
"encoding": {"x": {"field": "val", "type": "quantitative"}, "y": {"field": "age", "type": "quantitative", "axis": null}, "order": {"field": "age", "type": "quantitative"}}
},
{
"data": {"name": "roc"}, "transform": [{"filter": "datum.site === 'Zalavár'"}],
"mark": {"type": "rule", "color": "#333", "strokeWidth": 0.7},
"encoding": {"x": {"datum": 0, "type": "quantitative"}, "y": {"aggregate": "min", "field": "age", "type": "quantitative", "axis": null}, "y2": {"aggregate": "max", "field": "age"}}
},
{
"data": {"name": "notes"}, "transform": [{"filter": "datum.site === 'Zalavár'"}],
"mark": {"type": "text", "fontSize": 5, "align": "left", "baseline": "middle", "lineBreak": "\n", "color": "#222"},
"encoding": {"x": {"datum": 0.36, "type": "quantitative"}, "y": {"field": "age", "type": "quantitative", "axis": null}, "text": {"field": "text"}}
},
{
"data": {"name": "brackets"}, "transform": [{"filter": "datum.site === 'Zalavár'"}],
"mark": {"type": "rule", "color": "#333", "strokeWidth": 0.9},
"encoding": {"x": {"datum": 0.58, "type": "quantitative"}, "y": {"field": "from", "type": "quantitative", "axis": null}, "y2": {"field": "to"}}
},
{
"data": {"name": "brackets"}, "transform": [{"filter": "datum.site === 'Zalavár'"}, {"fold": ["from", "to"], "as": ["end", "edge"]}],
"mark": {"type": "rule", "color": "#333", "strokeWidth": 0.9},
"encoding": {"x": {"datum": 0.55, "type": "quantitative"}, "x2": {"datum": 0.61}, "y": {"field": "edge", "type": "quantitative", "axis": null}}
},
{
"data": {"name": "sites"}, "transform": [{"filter": "datum.site === 'Zalavár'"}],
"mark": {"type": "text", "fontSize": 9, "angle": -45, "align": "left", "baseline": "alphabetic", "color": "#111"},
"encoding": {"x": {"datum": 0, "type": "quantitative"}, "y": {"datum": -280, "type": "quantitative", "axis": null}, "text": {"field": "site"}}
}
]
},
{
"layer": [
{
"data": {"name": "roc"}, "transform": [{"filter": "datum.site === 'Sarkhát'"}],
"mark": {"type": "area", "orient": "horizontal", "color": "#dedede"},
"encoding": {
"x": {"field": "val", "type": "quantitative", "stack": null, "scale": {"domain": [0, 0.53], "range": [260.7, 313.7], "nice": false, "zero": false},
"axis": {"orient": "bottom", "offset": -30, "values": [0,0.05,0.1,0.15,0.2,0.25,0.3,0.35,0.4,0.45,0.5], "format": ".1~f", "labelExpr": "round(datum.value*100) % 10 === 0 ? datum.label : ''", "labelOverlap": false, "labelFontSize": 5.5, "labelPadding": 2, "tickSize": 2.5, "tickWidth": 0.6, "domainWidth": 0.6, "domainColor": "#333", "tickColor": "#333", "labelColor": "#222", "title": null}},
"y": {"field": "age", "type": "quantitative", "scale": {"domain": [0, 12000], "range": [62, 364], "nice": false, "zero": false}, "axis": null}
}
},
{
"data": {"name": "roc"}, "transform": [{"filter": "datum.site === 'Sarkhát'"}],
"mark": {"type": "rule", "color": "#8a8a8a", "strokeWidth": 0.4},
"encoding": {"x": {"field": "val", "type": "quantitative"}, "x2": {"datum": 0}, "y": {"field": "age", "type": "quantitative", "axis": null}}
},
{
"data": {"name": "roc"}, "transform": [{"filter": "datum.site === 'Sarkhát'"}],
"mark": {"type": "line", "color": "#333", "strokeWidth": 0.7},
"encoding": {"x": {"field": "val", "type": "quantitative"}, "y": {"field": "age", "type": "quantitative", "axis": null}, "order": {"field": "age", "type": "quantitative"}}
},
{
"data": {"name": "roc"}, "transform": [{"filter": "datum.site === 'Sarkhát'"}],
"mark": {"type": "rule", "color": "#333", "strokeWidth": 0.7},
"encoding": {"x": {"datum": 0, "type": "quantitative"}, "y": {"aggregate": "min", "field": "age", "type": "quantitative", "axis": null}, "y2": {"aggregate": "max", "field": "age"}}
},
{
"data": {"name": "notes"}, "transform": [{"filter": "datum.site === 'Sarkhát'"}],
"mark": {"type": "text", "fontSize": 5, "align": "left", "baseline": "middle", "lineBreak": "\n", "color": "#222"},
"encoding": {"x": {"datum": 0.3, "type": "quantitative"}, "y": {"field": "age", "type": "quantitative", "axis": null}, "text": {"field": "text"}}
},
{
"data": {"name": "brackets"}, "transform": [{"filter": "datum.site === 'Sarkhát'"}],
"mark": {"type": "rule", "color": "#333", "strokeWidth": 0.9},
"encoding": {"x": {"datum": 0.236, "type": "quantitative"}, "y": {"field": "from", "type": "quantitative", "axis": null}, "y2": {"field": "to"}}
},
{
"data": {"name": "brackets"}, "transform": [{"filter": "datum.site === 'Sarkhát'"}, {"fold": ["from", "to"], "as": ["end", "edge"]}],
"mark": {"type": "rule", "color": "#333", "strokeWidth": 0.9},
"encoding": {"x": {"datum": 0.206, "type": "quantitative"}, "x2": {"datum": 0.266}, "y": {"field": "edge", "type": "quantitative", "axis": null}}
},
{
"data": {"name": "sites"}, "transform": [{"filter": "datum.site === 'Sarkhát'"}],
"mark": {"type": "text", "fontSize": 9, "angle": -45, "align": "left", "baseline": "alphabetic", "color": "#111"},
"encoding": {"x": {"datum": -0.04, "type": "quantitative"}, "y": {"datum": -240, "type": "quantitative", "axis": null}, "text": {"field": "site"}}
}
]
},
{
"layer": [
{
"data": {"name": "roc"}, "transform": [{"filter": "datum.site === 'Bábtava'"}],
"mark": {"type": "area", "orient": "horizontal", "color": "#dedede"},
"encoding": {
"x": {"field": "val", "type": "quantitative", "stack": null, "scale": {"domain": [0, 0.36], "range": [319.3, 352.3], "nice": false, "zero": false},
"axis": {"orient": "bottom", "offset": -122, "values": [0,0.025,0.05,0.075,0.1,0.125,0.15,0.175,0.2,0.225,0.25,0.275,0.3,0.325,0.35], "format": ".1~f", "labelExpr": "round(datum.value*1000) % 100 === 0 ? datum.label : ''", "labelOverlap": false, "labelFontSize": 5.5, "labelPadding": 2, "tickSize": 2.5, "tickWidth": 0.6, "domainWidth": 0.6, "domainColor": "#333", "tickColor": "#333", "labelColor": "#222", "title": null}},
"y": {"field": "age", "type": "quantitative", "scale": {"domain": [0, 12000], "range": [62, 364], "nice": false, "zero": false}, "axis": null}
}
},
{
"data": {"name": "roc"}, "transform": [{"filter": "datum.site === 'Bábtava'"}],
"mark": {"type": "rule", "color": "#8a8a8a", "strokeWidth": 0.4},
"encoding": {"x": {"field": "val", "type": "quantitative"}, "x2": {"datum": 0}, "y": {"field": "age", "type": "quantitative", "axis": null}}
},
{
"data": {"name": "roc"}, "transform": [{"filter": "datum.site === 'Bábtava'"}],
"mark": {"type": "line", "color": "#333", "strokeWidth": 0.7},
"encoding": {"x": {"field": "val", "type": "quantitative"}, "y": {"field": "age", "type": "quantitative", "axis": null}, "order": {"field": "age", "type": "quantitative"}}
},
{
"data": {"name": "roc"}, "transform": [{"filter": "datum.site === 'Bábtava'"}],
"mark": {"type": "rule", "color": "#333", "strokeWidth": 0.7},
"encoding": {"x": {"datum": 0, "type": "quantitative"}, "y": {"aggregate": "min", "field": "age", "type": "quantitative", "axis": null}, "y2": {"aggregate": "max", "field": "age"}}
},
{
"data": {"name": "notes"}, "transform": [{"filter": "datum.site === 'Bábtava'"}],
"mark": {"type": "text", "fontSize": 5, "align": "left", "baseline": "middle", "lineBreak": "\n", "color": "#222"},
"encoding": {"x": {"datum": 0.237, "type": "quantitative"}, "y": {"field": "age", "type": "quantitative", "axis": null}, "text": {"field": "text"}}
},
{
"data": {"name": "brackets"}, "transform": [{"filter": "datum.site === 'Bábtava'"}],
"mark": {"type": "rule", "color": "#333", "strokeWidth": 0.9},
"encoding": {"x": {"datum": 0.364, "type": "quantitative"}, "y": {"field": "from", "type": "quantitative", "axis": null}, "y2": {"field": "to"}}
},
{
"data": {"name": "brackets"}, "transform": [{"filter": "datum.site === 'Bábtava'"}, {"fold": ["from", "to"], "as": ["end", "edge"]}],
"mark": {"type": "rule", "color": "#333", "strokeWidth": 0.9},
"encoding": {"x": {"datum": 0.331, "type": "quantitative"}, "x2": {"datum": 0.397}, "y": {"field": "edge", "type": "quantitative", "axis": null}}
},
{
"data": {"name": "brackets"}, "transform": [{"filter": "datum.site === 'Bábtava'"}],
"mark": {"type": "text", "fontSize": 5, "angle": 270, "align": "center", "baseline": "middle", "color": "#222"},
"encoding": {"x": {"datum": 0.315, "type": "quantitative"}, "y": {"datum": 6950, "type": "quantitative", "axis": null}, "text": {"value": "emberi hatás"}}
},
{
"data": {"name": "sites"}, "transform": [{"filter": "datum.site === 'Bábtava'"}],
"mark": {"type": "text", "fontSize": 9, "angle": -45, "align": "left", "baseline": "alphabetic", "color": "#111"},
"encoding": {"x": {"datum": -0.014, "type": "quantitative"}, "y": {"datum": -477, "type": "quantitative", "axis": null}, "text": {"field": "site"}}
}
]
},
{
"layer": [
{
"data": {"name": "roc"}, "transform": [{"filter": "datum.site === 'Sirok'"}],
"mark": {"type": "area", "orient": "horizontal", "color": "#7d7d7d"},
"encoding": {
"x": {"field": "val", "type": "quantitative", "stack": null, "scale": {"domain": [0, 1.5], "range": [362, 404], "nice": false, "zero": false},
"axis": {"orient": "bottom", "offset": -64, "values": [0,0.1,0.2,0.3,0.4,0.5,0.6,0.7,0.8,0.9,1.0,1.1,1.2,1.3,1.4,1.5], "format": ".1f", "labelExpr": "indexof(['0.2','0.8','1.4'], datum.label) >= 0 ? datum.label : ''", "labelOverlap": false, "labelFontSize": 5.5, "labelPadding": 2, "tickSize": 2.5, "tickWidth": 0.6, "domainWidth": 0.6, "domainColor": "#333", "tickColor": "#333", "labelColor": "#222", "title": null}},
"y": {"field": "age", "type": "quantitative", "scale": {"domain": [0, 12000], "range": [62, 364], "nice": false, "zero": false}, "axis": null}
}
},
{
"data": {"name": "roc"}, "transform": [{"filter": "datum.site === 'Sirok'"}],
"mark": {"type": "line", "color": "#444", "strokeWidth": 0.7},
"encoding": {"x": {"field": "val", "type": "quantitative"}, "y": {"field": "age", "type": "quantitative", "axis": null}, "order": {"field": "age", "type": "quantitative"}}
},
{
"data": {"name": "roc"}, "transform": [{"filter": "datum.site === 'Sirok'"}],
"mark": {"type": "rule", "color": "#444", "strokeWidth": 0.8},
"encoding": {"x": {"datum": 0, "type": "quantitative"}, "y": {"aggregate": "min", "field": "age", "type": "quantitative", "axis": null}, "y2": {"aggregate": "max", "field": "age"}}
},
{
"data": {"name": "notes"}, "transform": [{"filter": "datum.site === 'Sirok'"}],
"mark": {"type": "text", "fontSize": 5, "align": "left", "baseline": "middle", "lineBreak": "\n", "color": "#222"},
"encoding": {"x": {"datum": 1.4, "type": "quantitative"}, "y": {"field": "age", "type": "quantitative", "axis": null}, "text": {"field": "text"}}
},
{
"data": {"name": "brackets"}, "transform": [{"filter": "datum.site === 'Sirok'"}],
"mark": {"type": "rule", "color": "#333", "strokeWidth": 0.9},
"encoding": {"x": {"datum": 2.25, "type": "quantitative"}, "y": {"field": "from", "type": "quantitative", "axis": null}, "y2": {"field": "to"}}
},
{
"data": {"name": "brackets"}, "transform": [{"filter": "datum.site === 'Sirok'"}, {"fold": ["from", "to"], "as": ["end", "edge"]}],
"mark": {"type": "rule", "color": "#333", "strokeWidth": 0.9},
"encoding": {"x": {"datum": 2.14, "type": "quantitative"}, "x2": {"datum": 2.36}, "y": {"field": "edge", "type": "quantitative", "axis": null}}
},
{
"data": {"name": "sites"}, "transform": [{"filter": "datum.site === 'Sirok'"}],
"mark": {"type": "text", "fontSize": 9, "angle": -45, "align": "left", "baseline": "alphabetic", "color": "#111"},
"encoding": {"x": {"datum": 0, "type": "quantitative"}, "y": {"datum": -240, "type": "quantitative", "axis": null}, "text": {"field": "site"}}
}
]
},
{
"data": {"name": "temp"},
"encoding": {"y": {"field": "age", "type": "quantitative", "scale": {"domain": [0, 12000], "range": [62, 364], "nice": false, "zero": false}, "axis": null}, "order": {"field": "age", "type": "quantitative"}},
"layer": [
{
"mark": {"type": "line", "color": "#8c8c8c", "strokeWidth": 1.6, "interpolate": "catmull-rom"},
"encoding": {
"x": {"field": "lo", "type": "quantitative", "scale": {"domain": [6, 18], "range": [446, 592.3], "nice": false, "zero": false},
"axis": {"orient": "top", "offset": -62, "values": [6,6.5,7,7.5,8,8.5,9,9.5,10,10.5,11,11.5,12,12.5,13,13.5,14,14.5,15,15.5,16,16.5,17,17.5,18], "format": "d", "labelExpr": "datum.value % 1 === 0 ? datum.label : ''", "labelOverlap": false, "labelFontSize": 7, "labelPadding": 4, "tickSize": 3, "tickWidth": 0.6, "domainWidth": 0.7, "domainColor": "#333", "tickColor": "#333", "labelColor": "#222", "title": null}}
}
},
{
"mark": {"type": "line", "color": "#8c8c8c", "strokeWidth": 1.6, "interpolate": "catmull-rom"},
"encoding": {"x": {"field": "hi", "type": "quantitative"}}
},
{
"mark": {"type": "line", "color": "#111111", "strokeWidth": 1.8, "interpolate": "catmull-rom"},
"encoding": {"x": {"field": "mean", "type": "quantitative"}}
}
]
}
],
"resolve": {"scale": {"x": "independent"}, "axis": {"x": "independent", "y": "independent"}}
}
